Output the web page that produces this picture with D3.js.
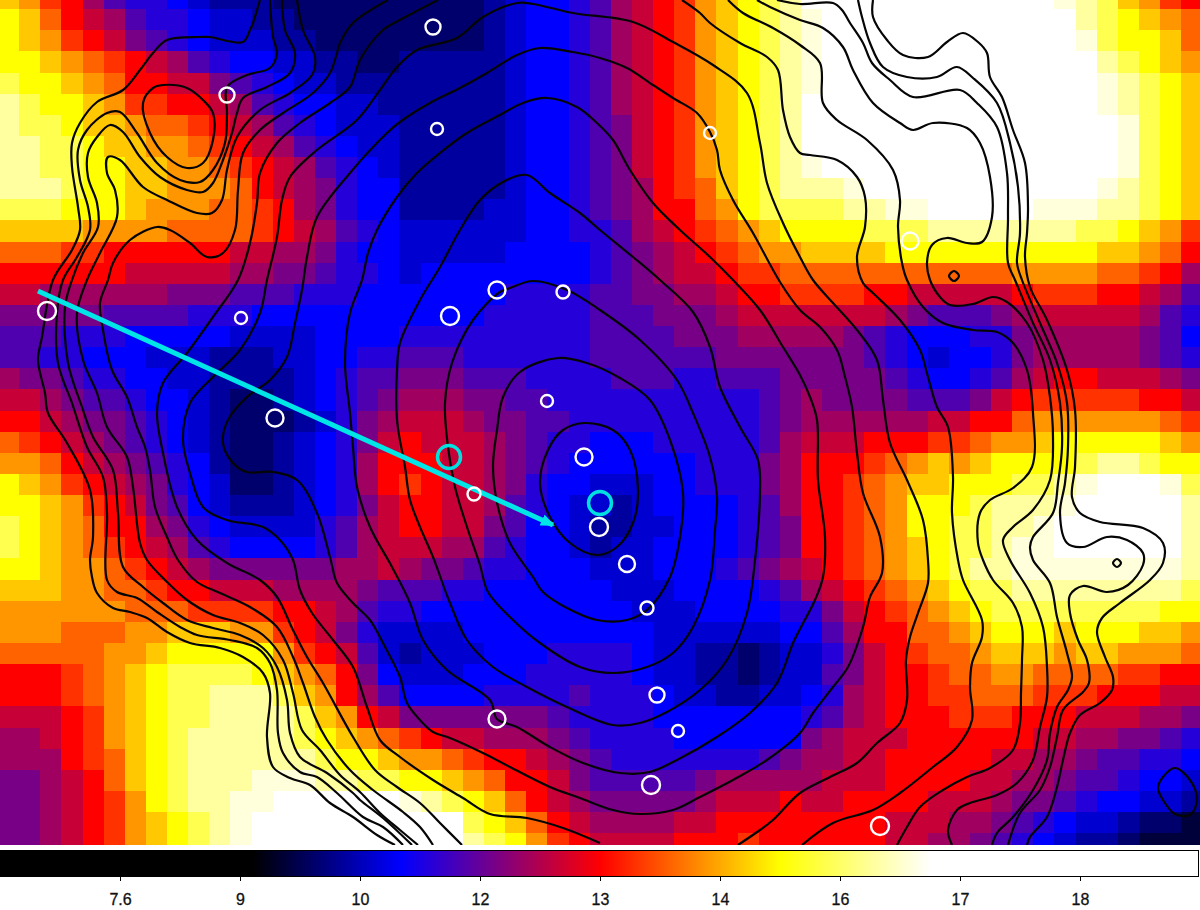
<!DOCTYPE html>
<html lang="en">
<head>
    <meta charset="UTF-8">
    <title>Map with contours and colour bar</title>
    <script src="https://cdn.jsdelivr.net/npm/d3@7"></script>
    <style>
        body { margin: 0; background: #fff; }
        svg { display: block; }
    </style>
</head>
<body>
<div id="chart"></div>
<script>
    // colour bar ticks
    const tickLabels = ["7.6", "9", "10", "12", "13", "14", "16", "17", "18"];
    const tickValues = [7.6, 9, 10, 12, 13, 14, 16, 17, 18];
    const rampValues = [9.1, 10.67, 13, 15, 16.75];
    const rampColors = ["#000000", "#0000ff", "#ff0000", "#ffff00", "#ffffff"];

    // one character per map cell, it is the index into levelValues
    const levelCodes = "0123456789abcdefghij";
    const levelValues = [9.38, 9.63, 9.87, 10.22, 10.67, 11.18, 11.72, 12.12, 12.38, 12.64,
        13, 13.29, 13.58, 13.88, 14.35, 15, 15.78, 16.28, 16.58, 16.75];

    const heatRows = [
        "edba865543222111111 111123445689abdefgh jjjjjjjjjjjjihgedba",
        "feca986554332211111 111123445689abdefgh ijjjjjjjjjjjjhgfedc",
        "fedba97654333221111 111123445689abdefgh ijjjjjjjjjjjjigffec",
        "ffedcba986544332211 222223445689abdefgh ijjjjjjjjjjjjjhgfed",
        "gffedcaa99765433222 222223445689abdefgh ijjjjjjjjjjjjjihgfe",
        "hgffedbbaa986544332 222223445689abdefgh jjjjjjjjjjjjjjihgfe",
        "hggfeedccba98654333 222223445679abdefgh jjjjjjjjjjjjjjjigfe",
        "hhggfeeddcba9865433 222223445679abdefgh jjjjjjjjjjjjjjjigfe",
        "hhggffeeddcba986543 222223445679abdefgh ijjjjjjjjjjjjjjigfe",
        "hhhgffeedddca987544 222223445678abcefgh hhijjjjjjjjjjjihgfe",
        "gggfffedddccba87544 222233445678aacdfgg gghhiijjjjjiiihhgfe",
        "eeeeddddccccba98654 3333334455689abcdef fffggghhhhhhhggfedb",
        "cccbbaaaaaa99887544 33333444456789abcdd eeeeffffffffffeedca",
        "aaaaaa9999988776554 344444444567899abbc ccccccccccddddccba8",
        "9988888877766655544 4444455556677889aab bbbaa99999abbbaa986",
        "7777766665554444444 4444555556667778999 9999876667899999865",
        "6665554444433334444 5555555556666777888 8876544455788888764",
        "6655444333222334455 6665555556666667777 7776543445788888765",
        "8776554433222234566 7776665555666556667 777765445689aa99987",
        "9987665443211234567 8887766555555555567 8777766679abbbbbaa9",
        "aa98776543211123578 9998776655555555567 88888899aacddddddcb",
        "cba9876543211234579 a999876554445555568 999aaabbcddefffffed",
        "ddca98765421123458a aa99876544444455578 aaabcdedeffffghhgff",
        "fedba9875431123458a ba99875443334455578 aabcdeefffgghijjjig",
        "ffedba9764322234579 aa99865433234444568 aabcdfffghhhijjjjjh",
        "gfedcaa875433335689 aa99764432233444567 aabcdffgghhijjjjjjh",
        "gfedcba986544445689 9988654432334444567 aabcdefgghiijjjjjjh",
        "ffeddcba98777777889 8776554443334445678 9abcdefghhiiiiiiiih",
        "eeeddccbaa999888876 6655444444333444456 89abcdefgghhhhhhhhg",
        "ddddddcccbbbbaa9865 5444444444433344445 579abcdefggggggggff",
        "dddcccddeeeddba9753 3334444444443333334 468aaccdefffefffeed",
        "cccccddefffffdba963 2333444555543322123 3579abccdeeedeedddc",
        "aaabcdefggggfedca74 3334445555543322123 3679aabccddccccbbaa",
        "aaabcdefgghhhgeda86 4444555565554332233 4589aabbcccbbbaaa99",
        "999abdefgghhhhgeda9 7777777655554444444 5689aaabbbaaa999887",
        "889abdefghhhhhgfedc ba99888765555444444 78999aaaaaa99887765",
        "888abcefghhhhhhgffe ddcbaa9876555555567 8899aaaaa9988766554",
        "7789acefghhhiiihhgg ffedcaa976666678888 8999aaaa99887665443",
        "7789abdfghhiijjjjjj ihgfeca98777778999a 99aaaa9998776544332",
        "7789abdefghijjjjjjj jjjgfeca9888899aaaa aaaa999887654332110",
        "7789abdefghijjjjjjj jjjhgfdba9999aaabaa aaaa998876543221000"
    ];

    // source rings, plane units
    const sourceX = [43.3, 22.7, 43.7, 71, 91, 49.7, 56.3, 45, 4.7, 24.1, 54.7, 27.5, 58.4, 47.4, 59.9, 62.7, 64.7, 65.7, 49.7, 67.8, 65.1, 88];
    const sourceY = [2.7, 9.5, 12.9, 13.3, 24.1, 29, 29.2, 31.6, 31.1, 31.8, 40.1, 41.8, 45.7, 49.4, 52.7, 56.4, 60.8, 69.5, 71.9, 73.1, 78.5, 82.6];
    const sourceR = [0.75, 0.75, 0.6, 0.6, 0.85, 0.85, 0.65, 0.9, 0.9, 0.6, 0.6, 0.85, 0.85, 0.65, 0.9, 0.8, 0.65, 0.75, 0.85, 0.6, 0.9, 0.9];
    const markedX = [44.9, 60];
    const markedY = [45.7, 50.3];
    const markedR = [1.15, 1.15];

    const arrowLine = [[3.8, 29.1], [55.3, 52.5]];

    // closed contours
    const contourA = [[58.5,42.3],[61.3,43],[63,45],[63.8,49],[63.3,52.3],[61.7,54.7],[59.7,55.5],[57,54.3],[55,51.7],[54,48.3],[54.8,45],[56.3,43]];
    const contourB = [[55.8,35.8],[58.7,36.3],[62,37.8],[65,40],[67,44],[68.3,49.3],[68,53.7],[67,57.7],[64.7,61],[62.7,62],[59.7,62],[56.7,60.8],[54.3,59.2],[53.3,57.7],[51,54.3],[49.8,50.7],[49.3,46.7],[49.7,43],[50.3,39.7],[52,37.2]];
    const contourC = [[53.3,28.1],[51,28.8],[50,29.2],[47.3,32],[45.2,36.3],[44.5,40.3],[44.8,44.7],[45.5,48.7],[46.7,52.7],[48,56.5],[48.8,59.2],[51.3,62],[54,64.3],[58,66.7],[61.3,67.3],[64.7,66.7],[67.3,65.3],[69.3,62.7],[71,58],[71.5,53],[71.7,49.7],[71,45.7],[69.3,41.3],[67.7,38],[64,34],[60,31],[56.7,29]];
    const contourD = [[52.7,17.5],[50.3,18.2],[48,20],[46,23],[44,26.7],[42,30],[40,34.3],[39.7,37],[39.7,42],[40.5,46.7],[41,50],[42,52.7],[43.3,55.7],[45,60.3],[46.7,64],[49.3,66.7],[52.7,68.7],[56.7,70.7],[61.3,72.5],[64,72.3],[66.7,71.2],[70,69],[72.7,66],[74.7,61.3],[75.5,56],[76,49.3],[75.8,46],[74,42.7],[72,38.7],[71,34.7],[69.3,31.2],[66,28],[63.3,25.7],[60,23],[58,21.3],[55,19.3]];
    const contourE = [[54.7,9.8],[52.3,10.3],[50,11.5],[46.7,13.3],[44,15.3],[41.7,17.3],[39.7,19.7],[37.7,23],[36.8,25.3],[36.2,28],[35,31.3],[34.5,36.3],[35,41.3],[35.3,44.7],[35.7,48.7],[37,52.7],[39.2,56.7],[41,60.3],[42.3,64],[44.7,67],[49,70],[49.7,71.9],[51.7,72.7],[55,74.7],[58.3,76.3],[62,77.3],[65,77.2],[67.7,76],[71.7,73.7],[75,71.3],[77.7,68.3],[79.3,64.3],[80,62.9],[81.5,60],[82.3,57.7],[82.5,53.7],[81.8,48],[81.7,42],[81,39.7],[80,37.5],[78.3,34.7],[76,31],[73.3,28],[71,25.7],[68,23],[65.3,20.3],[63,17],[61.3,14],[59.7,12.3],[57.7,10.7]];
    const contourF = [[54,4.8],[51.7,5.5],[48.7,7.3],[46,8.8],[43,10.3],[40,12.2],[38.7,13.3],[35,17.3],[31.7,21.7],[30.7,25.7],[30.2,29],[29.5,32.3],[28.7,35.7],[27,38],[24.7,39.7],[22.8,42],[22.3,44.3],[23.3,46.3],[24.7,47.2],[27.3,47.2],[29.7,48],[31.7,51.3],[33,55.7],[33.7,58.3],[35.3,60.3],[37,62],[38.3,64.3],[40,67.7],[40.7,70.3],[42,72],[43.3,73.2],[45,73.8],[48.3,75.3],[51,76.7],[55,78.7],[58,79.8],[61.3,81],[64,81.4],[67.3,81],[70,79.7],[73.3,78],[76.7,76],[80,73.3],[81.3,71.3],[83.3,68.7],[84.8,66.7],[86.3,62.7],[87,59.7],[88.2,57.3],[88,53.7],[86.3,49.3],[85.7,45.3],[85.2,40.7],[84.5,37.7],[83.7,35],[82,32.7],[80,31],[78,28.2],[75.3,23.3],[73.3,20],[72,17],[71.7,15],[71,13.2],[69.7,11.3],[67.3,9.8],[65.3,8.5],[62.7,6.8],[60,5.8],[57.3,5.2]];
    const blobUpper = [[16.3,8.5],[18.7,8.8],[20.3,10],[21.3,11.3],[21.3,14],[20.3,16.3],[18.7,16.8],[16.7,15.7],[15,13.3],[14.3,10.3],[15.3,8.8]];
    const blobLower = [[117.5,76.8],[119,78],[119.7,80],[119,81.5],[117.5,81.4],[116.3,80],[115.8,78.8],[116.3,77.7]];
    const dotUpper = [[95.4,27.1],[95.9,27.6],[95.4,28.1],[94.9,27.6]];
    const dotLower = [[111.7,55.9],[112.1,56.3],[111.7,56.7],[111.3,56.3]];

    // contours that leave the frame
    const contourG = [[60,84.3],[56.3,82.8],[52.7,81.8],[49,81.4],[46.3,79.8],[43.3,78],[40,75.7],[38,74],[36.7,70.7],[35.3,66.7],[33.3,64],[31.2,61.3],[30,59],[29.3,56],[28,54],[26.3,52.7],[22.7,52],[20.3,50.7],[19,47.3],[18.3,44],[19,40.3],[21.3,37.7],[24,35],[26,31.3],[26.7,28],[27.7,23.7],[28.2,20],[29,17.7],[31.7,15],[35.7,12],[38,9],[39.7,6.7],[41.7,5],[45.7,3.8],[48.3,1.7],[51.7,0.3],[53.3,0.4],[57.3,1.3],[63.3,2.2],[67.3,4.2],[71.3,6.5],[74.7,9.3],[76,14.3],[76.7,18.3],[78.3,22.3],[80,25.7],[81.3,28],[83.3,30.3],[85.7,33],[87.7,36],[88.3,40],[89,44.3],[90.7,48],[92.3,52],[92.8,56],[92.8,58.3],[91.8,61.3],[91,63.7],[90.6,66],[90.7,70],[90,72.3],[87.7,74.3],[85.7,76.3],[83,77.7],[80,79.3],[77.3,82],[76,83],[73.8,84.5]];
    const contourHLeft = [[46.2,84.5],[44,82.3],[42,80.3],[39.7,78.7],[37.5,77],[35.3,73.7],[32.3,68.3],[30.7,65.7],[29.3,63],[27.7,59.7],[26,58],[22.7,56.3],[19.7,54],[17.7,50.7],[16.3,45.3],[15.7,41.3],[16.3,38.3],[18.7,35.3],[21.3,31.7],[23.8,28],[25,24.3],[25.7,20.3],[26,17.3],[27.7,14.3],[30,12.3],[33,10.3],[35,8.7],[36,6],[38.3,3],[40,2],[43.8,0]];
    const contourHRight = [[68.2,0],[70,1.3],[71,2.3],[74,4.3],[76.7,5.7],[77.8,7],[78.3,11],[79,13.7],[80,15.3],[81,15.5],[83.7,16],[85.7,17.7],[86.5,19.7],[86.5,22.7],[85.7,25.7],[86.3,28.3],[87.3,29.3],[90,32],[92,35],[92.8,37.7],[93.7,40.7],[94.8,42.7],[95.3,47.7],[95.2,51.3],[95.8,56],[96.3,58],[98.2,62],[98.2,63.7],[97.2,66.3],[97,68.7],[97.2,72],[95.7,74.7],[93.3,76.7],[90,79.3],[87.3,81],[83.3,82.3],[80.2,84.5]];
    const contourILeft = [[38.8,0],[35.3,2.3],[34,4.3],[33.7,5.3],[33,7.3],[31.3,9.3],[28.3,11.3],[26,13],[24.3,15.3],[23.8,19],[23.5,23],[22.3,25.3],[20.7,25.7],[19,24.3],[17,23],[15.7,22.7],[13,24],[11.3,26.3],[10.8,28],[10,30.3],[10.3,33],[11.2,37],[12.7,39.7],[13.7,42.7],[14.5,44.7],[15,47],[15.5,50.7],[16.7,53.7],[17.8,56],[19.7,58.2],[22,59.3],[25,60.7],[27.7,62.7],[29.3,65.7],[30.3,68.3],[31.5,71.7],[32.7,74],[35,77],[37.3,79],[40.3,81.2],[42,82.7],[43.3,84.5]];
    const contourIRight = [[72.8,0],[74.3,1.3],[77.3,2.8],[80,4.5],[82,6.3],[82.3,10.3],[83.7,12],[86.7,14],[89.3,17],[90,20],[89.8,22.7],[90.2,26.3],[90.7,28],[92.3,30.7],[94.3,32.3],[97.3,33],[99.7,33.2],[101.3,34.3],[102.7,37],[103.3,41.3],[103.2,46.7],[101.3,48.8],[99,50],[98,51.3],[97.8,54.3],[98.3,56],[99.3,58],[101.3,60.3],[102.2,62.7],[102.2,66],[102.1,69.3],[102,72.3],[101.3,75],[99,76.8],[96.7,77.7],[94.3,79],[92,80.7],[90.7,82.7],[89.7,84.5]];
    const contourJLeft = [[29.7,0],[30.3,3],[31.5,5.7],[31.2,7.5],[29,9.3],[26,11],[23.7,13.7],[22.7,17],[22.2,20],[21.2,21.3],[19.7,21.3],[16.7,20],[14.3,18.7],[12,16],[10.8,15.7],[10.7,17.3],[11.5,19],[11.7,21.7],[10,25.3],[8.7,28],[7.7,31.3],[8.3,36],[9.7,39.3],[10.7,42.7],[12.7,45.7],[13.3,48.7],[14,54.3],[14.7,56],[16.7,58.2],[18.7,60],[21.3,61.5],[24,62.3],[26.3,63.5],[28.3,66],[29.3,69.3],[30.2,73],[32,75],[34,77.5],[36,79.2],[38,81.3],[40,83],[41.8,84.5]];
    const contourJRight = [[75.7,0],[77,0.7],[80,2],[82.3,2.8],[84.3,4.7],[85.3,7],[87.3,10.3],[90,12.3],[91.3,13],[93.3,12.3],[96.7,12.8],[98,14.3],[99,17.7],[99.2,21.7],[98.2,24.2],[96.7,24.3],[94.7,23.8],[93.2,24.5],[92.7,26.3],[93,28],[94,29.7],[95,30.5],[97.3,30.4],[99.3,29.7],[100.7,30.2],[102.7,32.3],[104.3,36],[105,39.7],[105.3,43.7],[105,48],[103.3,51],[101.3,52.7],[100.3,54],[101,56],[103,59.3],[104.3,62.7],[104.7,66.7],[104.7,69.7],[104,72.7],[103.3,76],[101.7,78.3],[99.7,79.5],[97,80.3],[95.7,81],[94.8,83],[95.2,84.5]];
    const contourKLeft = [[28.2,0],[28.5,3],[29.5,5.3],[29,7.3],[26.7,8.7],[24.3,9.8],[23.7,11.3],[23.2,13.3],[22.3,16],[21.3,18.3],[20.3,19.2],[18.7,19],[16,17.7],[14,15.7],[12.3,13.2],[11,12.5],[9.7,13.7],[8.8,15.3],[8.8,17.7],[9.7,20.3],[9.8,22.7],[8.3,25.3],[7.2,28],[6.5,30.7],[6.8,36.3],[8.2,40.7],[9.3,43.7],[11.3,47],[11.8,51.3],[12.3,56.7],[14.3,58.7],[16.3,60.3],[18.7,62],[21.3,62.8],[24,63.5],[26.3,64.8],[27.7,66.7],[28.7,70],[29,73.3],[30,75.7],[32.7,77.3],[35.3,79.3],[36,80],[38.3,81.8],[41.2,84.5]];
    const contourKRight = [[77.7,0],[80,0.4],[83.3,0.3],[84.2,1],[85,2.3],[86.3,4.3],[87.2,6.3],[89,8],[91.3,9.7],[96,9],[97.7,10.3],[99.7,12.7],[100.7,17.3],[100.8,21.7],[100.8,26.3],[101.5,28],[103.3,32.3],[105,36],[106,40.3],[106.2,44.7],[105.8,48.3],[105.3,51.3],[103.3,53.7],[103,54.7],[103.3,56],[105,58.3],[105.7,61.7],[106.7,65.3],[107.2,67.7],[106.8,69],[105.7,70.7],[105,73.3],[104.7,76],[103.3,79],[101.3,81.7],[99.7,83.3],[99.2,84.5]];
    const contourLLeft = [[27,0],[27.3,3.7],[27.7,5.3],[27,6.8],[24.7,7.5],[22.7,8.7],[22.7,11.3],[22.5,14.3],[21.3,17],[20,18.2],[18,18],[15.7,16.3],[13.7,13.3],[12,11.2],[10.7,11.3],[8.7,13],[7.8,15],[8,18],[8.8,20.7],[9,23],[7.7,25.7],[6.3,28],[5.7,31.3],[5.8,36.3],[7.2,40.3],[8.7,44.7],[10.3,47.7],[10.7,51.3],[10.7,58],[11.7,59.2],[13.7,59.8],[15.7,61.2],[18,62.7],[19.7,63.5],[23,64],[25.7,64.8],[27,66.3],[27.7,69],[27.8,73.3],[28.3,75.3],[30,77.2],[31.7,77.7],[33.7,79.3],[36.3,81.7],[38.3,82.7],[40.3,84.5]];
    const contourLRight = [[85.8,0],[86.2,1.7],[87,4.3],[88.3,6.7],[90.7,7.7],[93.7,7.7],[95.7,6.7],[97.3,7.8],[99.7,10.3],[101,14.3],[101.8,18.7],[102,23.3],[101.7,26.3],[102.2,28],[104,32.3],[105.7,36.3],[106.7,40.3],[106.8,44.7],[106.5,48.3],[106,51.3],[106.7,54.3],[108.3,54.7],[110.7,53.7],[112.7,54],[114.3,55.3],[114.3,56.5],[112.8,58.5],[110.7,59.2],[108.3,58.6],[107,59.5],[107,61.3],[107.8,64],[108.7,66],[108.9,68.3],[108.3,69.2],[106.3,71],[105.7,73.7],[105,76.7],[104,79],[102,81.3],[100.8,84.5]];
    const contourMLeft = [[26,0],[25.3,2.3],[25,3],[24.3,4.2],[21,3.7],[20,3.7],[16.7,4],[15.3,5.3],[14,7],[12.3,9],[9.7,10.2],[8,12.3],[7.2,14.3],[7.2,16.7],[7.8,20.7],[8,23],[7.2,25],[5.3,28],[4.2,33.7],[3.8,36],[4.5,39.3],[4.8,41.3],[6.7,44.3],[9,49],[9.3,53.7],[9,56],[9.2,57.7],[9.7,59.3],[11.3,60.8],[13,61.2],[14.7,61.8],[16.7,63.2],[19,64.3],[22,64.8],[24.3,65.7],[26.3,67.3],[27,69.3],[26.7,73.7],[27.3,76.7],[29,77.8],[31,78.5],[33,80.3],[35.3,81.7],[37.7,83.5],[39.5,84.5]];
    const contourMRight = [[87.3,0],[87.3,1.7],[88.7,4],[90.3,5.5],[92.8,5.7],[94.7,4.2],[96.3,3.3],[97.8,4.2],[98.7,5.3],[99,7.7],[100.2,9.7],[101.3,13],[102.5,16.3],[102.8,20.7],[102.7,23.3],[102.5,25.7],[103,28.7],[104.7,32],[106.7,37],[107.5,41],[107.5,46.7],[107.2,49.7],[108,51.3],[110,52.2],[114.3,52.8],[116.3,54.3],[116.3,56.3],[115,58],[112,60.3],[110.2,61.8],[109.7,63.2],[110.5,65.7],[111.3,67.7],[111.2,69],[110,70.3],[108,71.5],[107,73.3],[106.3,76],[105.7,78.7],[104.7,81.7],[103,83.7],[102.7,84.5]];

    const closedContours = [contourA, contourB, contourC, contourD, contourE, contourF, blobUpper, blobLower, dotUpper, dotLower];
    const openContours = [contourG, contourHLeft, contourHRight, contourILeft, contourIRight, contourJLeft, contourJRight,
        contourKLeft, contourKRight, contourLLeft, contourLRight, contourMLeft, contourMRight];

    let width = 1200;
    let height = 910;
    let mapHeight = 845;
    let barTop = 850;
    let barHeight = 26;
    let barWidth = 1198;

    // the map plane, 120 x 84.5 units
    let planeX = d3.scaleLinear().domain([0, 120]).range([0, width]);
    let planeY = d3.scaleLinear().domain([0, 84.5]).range([0, mapHeight]);

    // map cells stick out of the frame a bit on the top and left
    let cellX = d3.scaleLinear().domain([0, 57]).range([-2, 1202.4]);
    let cellY = d3.scaleLinear().domain([0, 41]).range([-12, 854.3]);

    // the bar is not linear in value, ticks are evenly spaced
    let barX = d3.scaleLinear()
        .domain(tickValues)
        .range(tickValues.map((d, i) => (i + 1) * 120));
    let barAxisScale = d3.scalePoint()
        .domain(tickLabels)
        .range([120, 1080]);
    let ramp = d3.scaleLinear()
        .domain(rampValues.map(d => barX(d)))
        .range(rampColors)
        .clamp(true);

    let svg = d3.select("#chart")
        .append("svg")
        .attr("width", width)
        .attr("height", height);

    let defs = svg.append("defs");

    defs.append("clipPath")
        .attr("id", "mapClip")
        .append("rect")
        .attr("width", width)
        .attr("height", mapHeight);

    // the original was resampled, cell edges are a little soft
    defs.append("filter")
        .attr("id", "soften")
        .append("feGaussianBlur")
        .attr("stdDeviation", 0.7);

    let gradient = defs.append("linearGradient")
        .attr("id", "barGradient");
    gradient.selectAll("stop")
        .data(rampValues)
        .join("stop")
        .attr("offset", d => `${barX(d) / barWidth * 100}%`)
        .attr("stop-color", (d, i) => rampColors[i]);

    defs.append("marker")
        .attr("id", "arrowHead")
        .attr("markerUnits", "userSpaceOnUse")
        .attr("viewBox", "0 0 14 12")
        .attr("markerWidth", 14)
        .attr("markerHeight", 12)
        .attr("refX", 12)
        .attr("refY", 6)
        .attr("orient", "auto")
        .append("path")
        .attr("d", "M0,0L14,6L0,12Z")
        .attr("fill", "#00e5e5");

    let mapGroup = svg.append("g")
        .attr("clip-path", "url(#mapClip)");

    // Section for the map cells
    let cells = [];
    heatRows.forEach((row, r) => {
        row.replace(/ /g, "").split("").forEach((code, c) => {
            cells.push({ row: r, col: c, value: levelValues[levelCodes.indexOf(code)] });
        });
    });

    mapGroup.append("g")
        .attr("shape-rendering", "crispEdges")
        .attr("filter", "url(#soften)")
        .selectAll("rect")
        .data(cells)
        .join("rect")
        .attr("x", d => cellX(d.col))
        .attr("y", d => cellY(d.row))
        .attr("width", cellX(1) - cellX(0) + 0.5)
        .attr("height", cellY(1) - cellY(0) + 0.5)
        .attr("fill", d => ramp(barX(d.value)));

    // Section for the contours
    let lineOpen = d3.line()
        .x(d => planeX(d[0]))
        .y(d => planeY(d[1]))
        .curve(d3.curveCatmullRom);
    let lineClosed = d3.line()
        .x(d => planeX(d[0]))
        .y(d => planeY(d[1]))
        .curve(d3.curveCatmullRomClosed);

    mapGroup.append("g")
        .selectAll("path")
        .data(openContours)
        .join("path")
        .attr("d", lineOpen)
        .attr("fill", "none")
        .attr("stroke", "#050505")
        .attr("stroke-width", 2.2);

    mapGroup.append("g")
        .selectAll("path")
        .data(closedContours)
        .join("path")
        .attr("d", lineClosed)
        .attr("fill", "none")
        .attr("stroke", "#050505")
        .attr("stroke-width", 2.2);

    // Section for the arrow and the rings
    mapGroup.append("path")
        .datum(arrowLine)
        .attr("d", d3.line().x(d => planeX(d[0])).y(d => planeY(d[1])))
        .attr("fill", "none")
        .attr("stroke", "#00e5e5")
        .attr("stroke-width", 5)
        .attr("marker-end", "url(#arrowHead)");

    mapGroup.append("g")
        .selectAll("circle")
        .data(sourceX)
        .join("circle")
        .attr("cx", d => planeX(d))
        .attr("cy", (d, i) => planeY(sourceY[i]))
        .attr("r", (d, i) => planeX(sourceR[i]))
        .attr("fill", "none")
        .attr("stroke", "#ffffff")
        .attr("stroke-width", 2.4);

    mapGroup.append("g")
        .selectAll("circle")
        .data(markedX)
        .join("circle")
        .attr("cx", d => planeX(d))
        .attr("cy", (d, i) => planeY(markedY[i]))
        .attr("r", (d, i) => planeX(markedR[i]))
        .attr("fill", "none")
        .attr("stroke", "#00e0e0")
        .attr("stroke-width", 3.5);

    // Section for the colour bar
    svg.append("rect")
        .attr("x", 0.5)
        .attr("y", barTop + 0.5)
        .attr("width", barWidth)
        .attr("height", barHeight)
        .attr("fill", "url(#barGradient)")
        .attr("stroke", "#000")
        .attr("stroke-width", 1);

    let barAxis = d3.axisBottom(barAxisScale)
        .tickSize(5)
        .tickPadding(13);

    let axisGroup = svg.append("g")
        .attr("transform", `translate(0, ${barTop + barHeight})`)
        .call(barAxis);
    axisGroup.select(".domain").remove();
    axisGroup.selectAll("text")
        .attr("font-family", "'Liberation Sans', Arial, sans-serif")
        .attr("font-size", 16)
        .attr("fill", "#111")
        .attr("stroke", "#111")
        .attr("stroke-width", 0.3);
</script>
</body>
</html>
